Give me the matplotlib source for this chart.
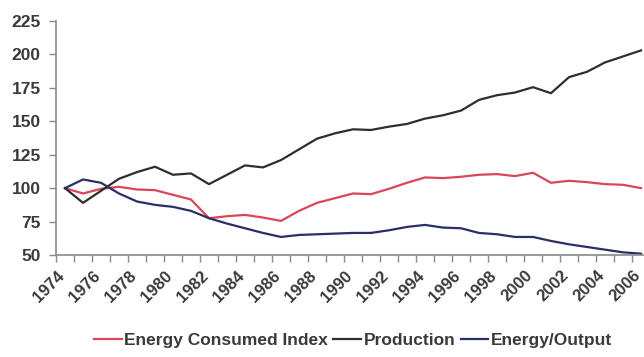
import matplotlib
matplotlib.use("Agg")
import matplotlib.pyplot as plt
import matplotlib.transforms as mtransforms
import numpy as np

# Index values, 1974 = 100
years = list(range(1974, 2007))
energy_consumed = [100, 96, 99.5, 101, 99, 98.5, 95, 91.5, 77.5, 79, 80, 78, 75.5,
                   83, 89, 92.5, 96, 95.5, 99.5, 104, 108, 107.5, 108.5, 110, 110.5,
                   109, 111.5, 104, 105.5, 104.5, 103, 102.5, 100]
production = [100, 89, 98, 107, 112, 116, 110, 111, 103, 110, 117, 115.5, 121,
              129, 137, 141, 144, 143.5, 146, 148, 152, 154.5, 158, 166, 169.5,
              171.5, 175.5, 171, 183, 187, 194, 198.5, 203]
energy_per_output = [100, 106.5, 104, 96, 90, 87.5, 86, 83, 77.5, 73.5, 70, 66.5, 63.5,
                     65, 65.5, 66, 66.5, 66.5, 68.5, 71, 72.5, 70.5, 70, 66.5, 65.5,
                     63.5, 63.5, 60.5, 58, 56, 54, 52, 51]
series_names = ["Energy Consumed Index", "Production", "Energy/Output"]
series_colors = ["#d9465a", "#2e2e2e", "#2a2f66"]
y_ticks = [50, 75, 100, 125, 150, 175, 200, 225]

W, H = 644, 357
fig = plt.figure(figsize=(W / 100, H / 100), dpi=100)
ax = fig.add_axes([56 / W, (H - 255) / H, 594 / W, 234 / H])

x = np.arange(len(years))
for vals, name, col in zip([energy_consumed, production, energy_per_output],
                           series_names, series_colors):
    ax.plot(x, vals, color=col, lw=1.6, label=name, solid_joinstyle="round")

text_col = "#3a3a3a"
axis_col = "#8a8a8a"
font = {"family": "Liberation Sans", "weight": "bold"}

ax.set_xlim(-0.5, len(years) - 0.5)
ax.set_ylim(y_ticks[0], y_ticks[-1])
ax.set_yticks(y_ticks)
ax.set_yticklabels([str(t) for t in y_ticks], fontsize=12.5, color=text_col, **font)

# category boundaries carry tick marks; year labels sit on every other category
ax.set_xticks(np.arange(len(years) + 1) - 0.5)
ax.set_xticklabels([])
label_trans = ax.get_xaxis_transform() + mtransforms.ScaledTranslation(
    -0.08, -0.13, fig.dpi_scale_trans)
for i in x[::2]:
    ax.text(i, 0, str(years[i]), transform=label_trans, rotation=45,
            ha="right", va="top", rotation_mode="anchor", fontsize=12,
            color=text_col, clip_on=False, **font)
ax.tick_params(axis="x", which="major", direction="out", length=5, width=1, color=axis_col)
ax.tick_params(axis="y", direction="out", length=5, width=1, color=axis_col, pad=6)

for s in ["top", "right"]:
    ax.spines[s].set_visible(False)
for s in ["left", "bottom"]:
    ax.spines[s].set_color(axis_col)
    ax.spines[s].set_linewidth(1.2)

handles, labels = ax.get_legend_handles_labels()
fig.legend(handles, labels, loc="center", bbox_to_anchor=(353 / W, 17 / H), ncol=3,
           frameon=False, handlelength=1.6, handletextpad=0.15, columnspacing=0.3,
           prop={**font, "size": 12.5}, labelcolor=text_col)

fig.savefig("out.png", dpi=100)
